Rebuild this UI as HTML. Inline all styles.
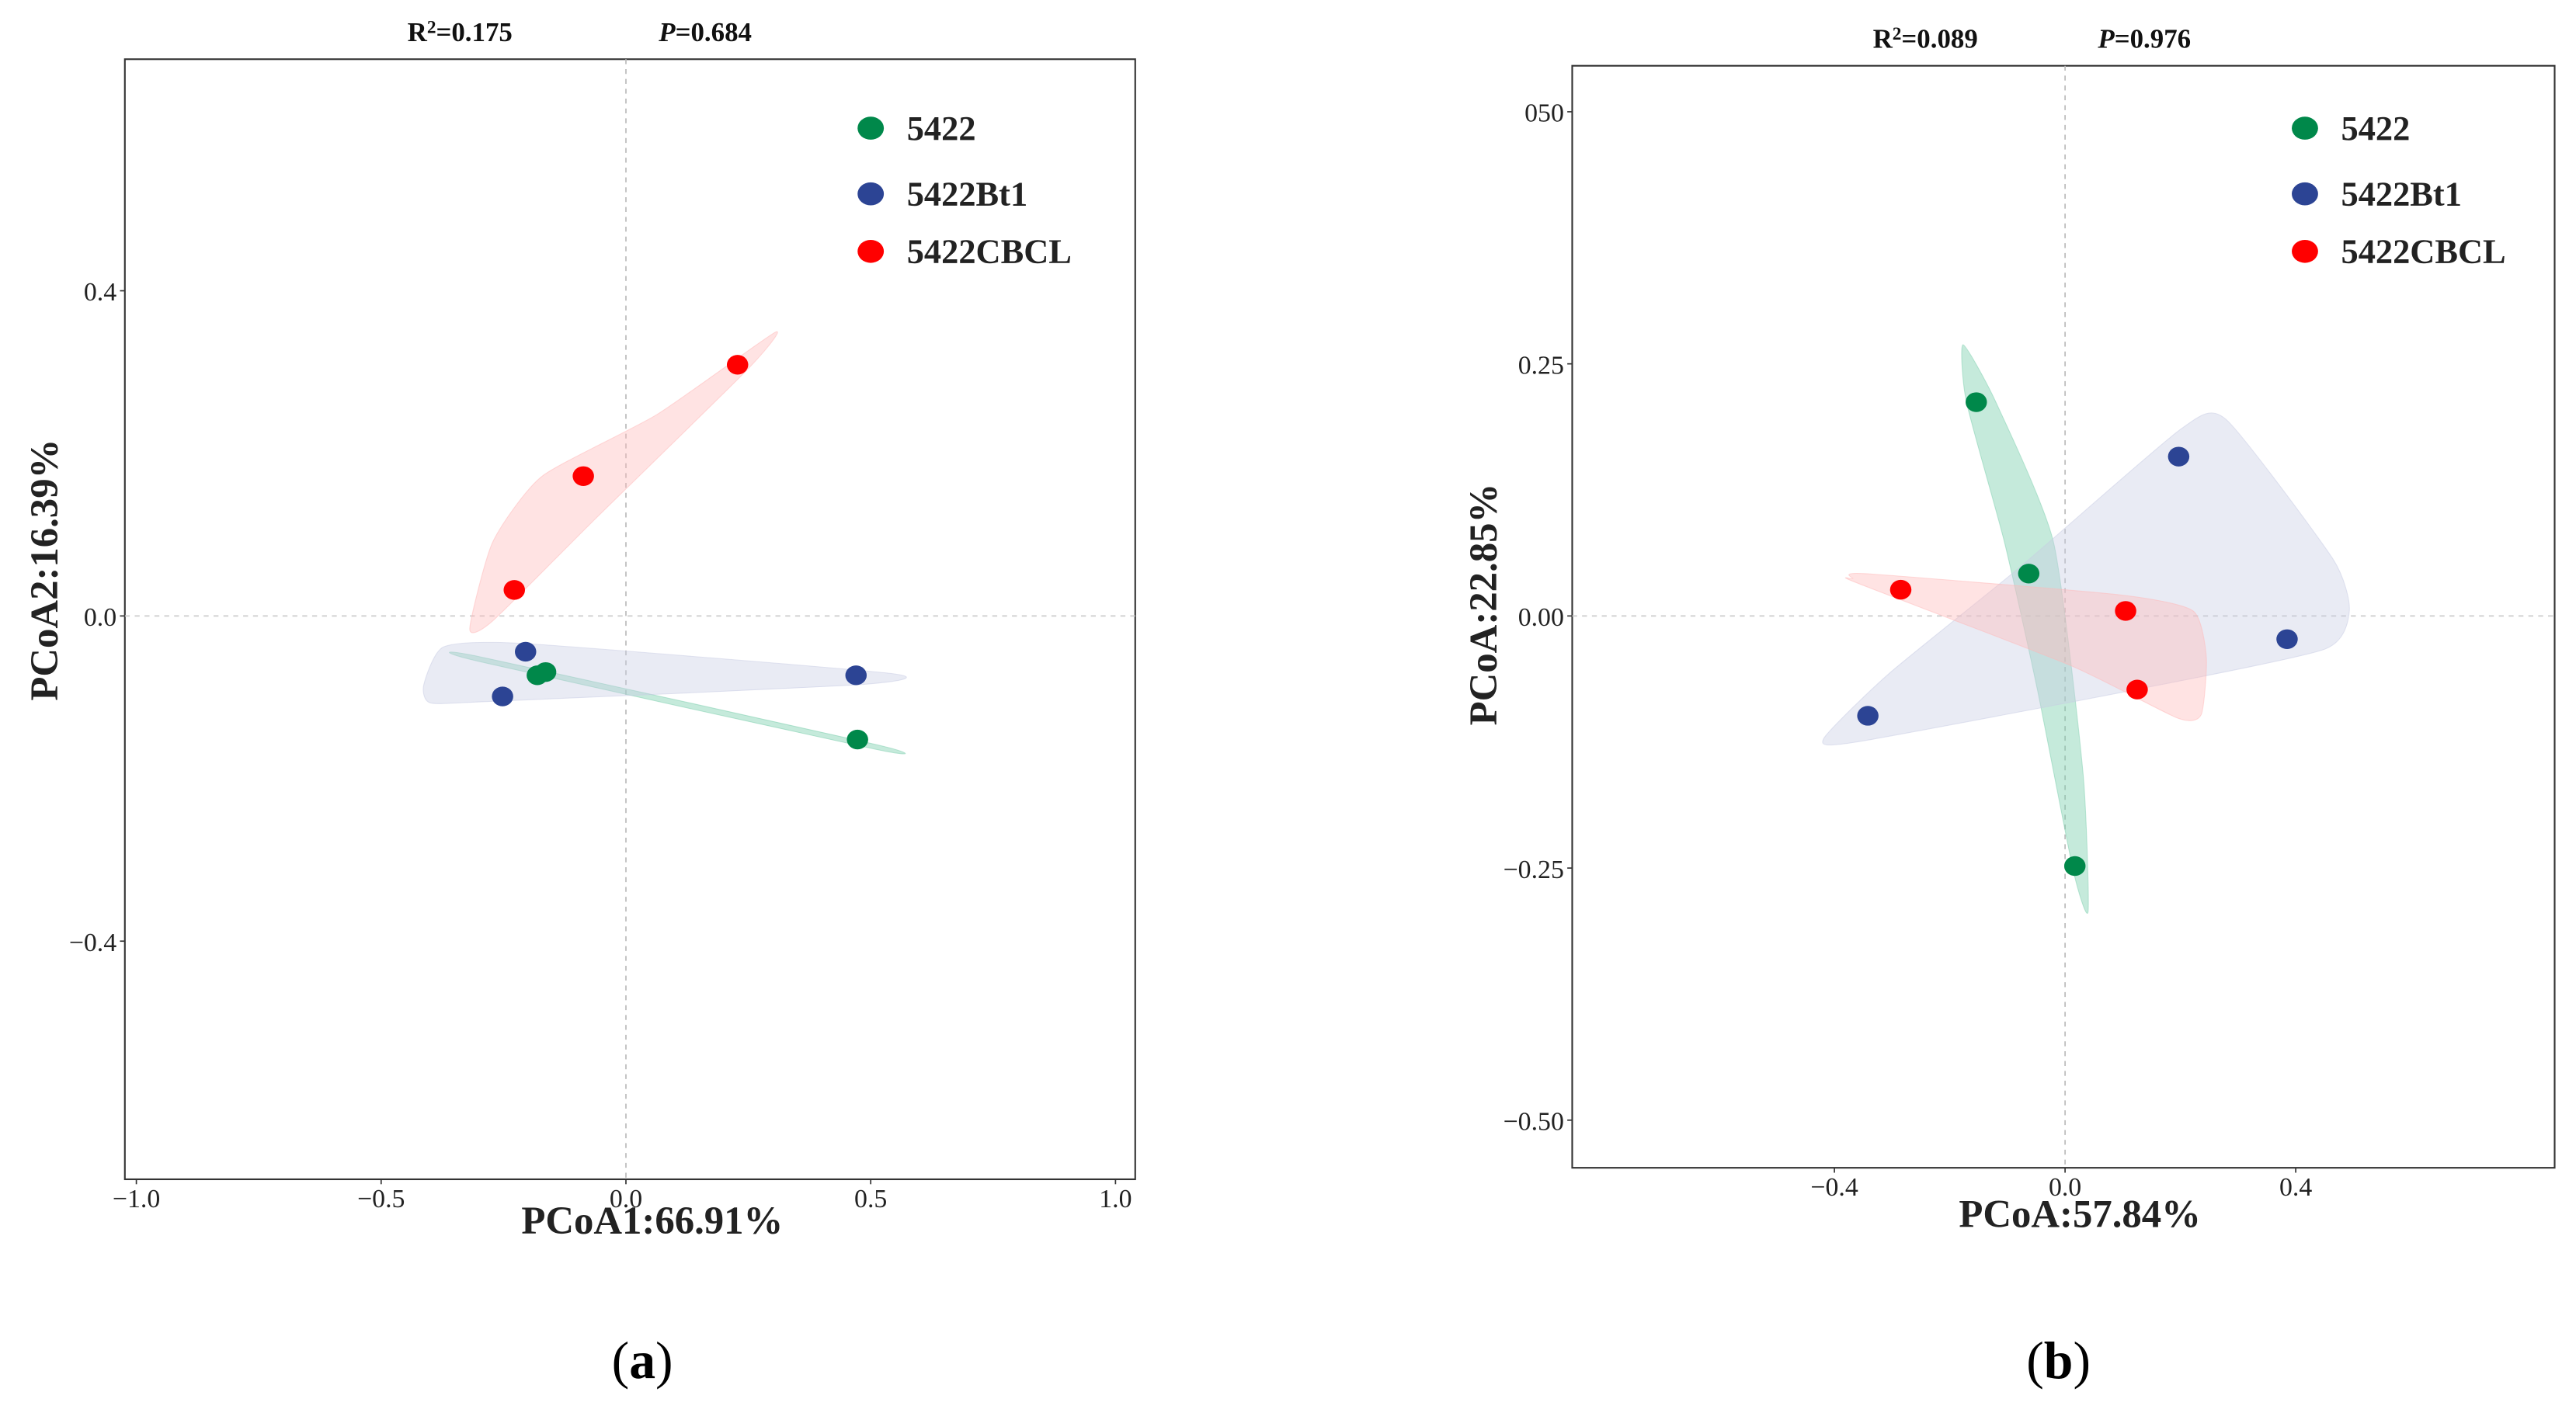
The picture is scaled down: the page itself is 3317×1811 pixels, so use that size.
<!DOCTYPE html>
<html><head><meta charset="utf-8"><style>
html,body{margin:0;padding:0;background:#fff;}
svg{display:block;font-family:"Liberation Serif",serif;}
</style></head><body>
<svg id="fig" width="3317" height="1811" viewBox="0 0 1568 856" xmlns="http://www.w3.org/2000/svg"></svg>
<script>
// ---- Panel A data ----
const groups = ["5422", "5422Bt1", "5422CBCL"];
const colors = ["#00884a", "#2c4494", "#ff0000"];
const hullColors = ["#7fd0b0", "#c8cce4", "#ffb8b8"];
const aXTicks = [-1.0, -0.5, 0.0, 0.5, 1.0];
const aXTickLabels = ["\u22121.0", "\u22120.5", "0.0", "0.5", "1.0"];
const aYTicks = [0.4, 0.0, -0.4];
const aYTickLabels = ["0.4", "0.0", "\u22120.4"];
const aGreenX = [-0.181, -0.164, 0.473];
const aGreenY = [-0.073, -0.069, -0.152];
const aBlueX = [-0.205, -0.252, 0.470];
const aBlueY = [-0.044, -0.099, -0.073];
const aRedX = [0.228, -0.087, -0.228];
const aRedY = [0.309, 0.172, 0.032];
const aHullGreen = [[-0.30,-0.050],[0.51,-0.158],[0.51,-0.164],[-0.30,-0.056]];
const aHullBlue = [[-0.413,-0.085],[-0.372,-0.038],[-0.205,-0.034],[0.545,-0.071],[0.466,-0.085],[-0.272,-0.105],[-0.399,-0.107]];
const aHullRed = [[-0.319,-0.016],[-0.272,0.091],[-0.171,0.172],[0.064,0.248],[0.305,0.349],[0.248,0.303],[-0.070,0.115],[-0.272,-0.006]];
// ---- Panel B data ----
const bXTicks = [-0.4, 0.0, 0.4];
const bXTickLabels = ["\u22120.4", "0.0", "0.4"];
const bYTicks = [0.5, 0.25, 0.0, -0.25, -0.5];
const bYTickLabels = ["050", "0.25", "0.00", "\u22120.25", "\u22120.50"];
const bGreenX = [-0.154, -0.063, 0.017];
const bGreenY = [0.212, 0.042, -0.248];
const bBlueX = [0.197, 0.385, -0.342];
const bBlueY = [0.158, -0.023, -0.099];
const bRedX = [-0.285, 0.105, 0.125];
const bRedY = [0.026, 0.005, -0.073];
const bHullGreen = [[-0.177,0.269],[-0.120,0.212],[-0.020,0.073],[0.031,-0.155],[0.040,-0.293],[0.014,-0.252],[-0.048,-0.073],[-0.105,0.073],[-0.171,0.212]];
const bHullBlue = [[-0.419,-0.122],[-0.305,-0.057],[-0.077,0.049],[0.200,0.185],[0.279,0.195],[0.464,0.057],[0.493,0.005],[0.450,-0.033],[0.123,-0.073],[-0.362,-0.125]];
const bHullRed = [[-0.368,0.037],[-0.348,0.042],[0.094,0.021],[0.222,0.005],[0.245,-0.041],[0.236,-0.098],[0.194,-0.101],[0.009,-0.049],[-0.362,0.033]];

const NS = "http://www.w3.org/2000/svg";
const svg = document.getElementById("fig");
function mk(tag, attrs, parent, text) {
  const e = document.createElementNS(NS, tag);
  for (const k in attrs) e.setAttribute(k, attrs[k]);
  if (text !== undefined) e.textContent = text;
  (parent || svg).appendChild(e);
  return e;
}
function smoothPath(pts) {
  const n = pts.length; let d = "M" + pts[0][0] + "," + pts[0][1];
  const k = 10;
  for (let i = 0; i < n; i++) {
    const p0 = pts[(i - 1 + n) % n], p1 = pts[i], p2 = pts[(i + 1) % n], p3 = pts[(i + 2) % n];
    const c1 = [p1[0] + (p2[0] - p0[0]) / k, p1[1] + (p2[1] - p0[1]) / k];
    const c2 = [p2[0] - (p3[0] - p1[0]) / k, p2[1] - (p3[1] - p1[1]) / k];
    d += "C" + c1[0] + "," + c1[1] + " " + c2[0] + "," + c2[1] + " " + p2[0] + "," + p2[1];
  }
  return d + "Z";
}
function panel(cfg) {
  const g = mk("g", {});
  
  
  const sx = v => cfg.x0 + v * cfg.kx;
  const sy = v => cfg.y0 - v * cfg.ky;
  const box = mk("rect", {x: cfg.L, y: cfg.T, width: cfg.R - cfg.L, height: cfg.B - cfg.T, fill: "none", stroke: "#333", "stroke-width": 1}, g);
  
  
  const zl1 = mk("line", {x1: sx(0), x2: sx(0), y1: cfg.T, y2: cfg.B, stroke: "#bbb", "stroke-dasharray": "3,3", "stroke-width": 0.8}, g);
  
  
  const zl2 = mk("line", {x1: cfg.L, x2: cfg.R, y1: sy(0), y2: sy(0), stroke: "#ccc", "stroke-dasharray": "3,3", "stroke-width": 0.8}, g);
  
  
  cfg.hulls.forEach((h, i) => {
    const p = mk("path", {d: smoothPath(h.map(q => [sx(q[0]), sy(q[1])])), fill: hullColors[i], "fill-opacity": i === 0 ? 0.45 : 0.4, stroke: hullColors[i], "stroke-opacity": 0.5, "stroke-width": 0.5}, g);
    
    
  });
  cfg.xt.forEach((t, i) => {
    const tl = mk("line", {x1: sx(t), x2: sx(t), y1: cfg.B, y2: cfg.B + 3, stroke: "#333", "stroke-width": 0.8}, g);
    
    
    const tx = mk("text", {x: sx(t), y: cfg.B + 17, "text-anchor": "middle", "font-size": 16, fill: "#222"}, g, cfg.xl[i]);
    
    
  });
  cfg.yt.forEach((t, i) => {
    const tl = mk("line", {x1: cfg.L - 3, x2: cfg.L, y1: sy(t), y2: sy(t), stroke: "#333", "stroke-width": 0.8}, g);
    
    
    const tx = mk("text", {x: cfg.L - 5, y: sy(t) + 6, "text-anchor": "end", "font-size": 16, fill: "#222"}, g, cfg.yl[i]);
    
    
  });
  cfg.pts.forEach((s, i) => {
    s[0].forEach((v, j) => {
      const c = mk("ellipse", {cx: sx(v), cy: sy(s[1][j]), rx: 6.5, ry: 6, fill: colors[i]}, g);
      
      
    });
  });
  groups.forEach((nm, i) => {
    const ly = [78, 118, 153][i];
    const c = mk("ellipse", {cx: cfg.legX, cy: ly, rx: 8, ry: 7, fill: colors[i]}, g);
    
    
    const t = mk("text", {x: cfg.legX + 22, y: ly + 7, "font-size": 21, "font-weight": "bold", fill: "#222"}, g, nm);
    
    
  });
  const r2 = mk("text", {x: cfg.r2x, y: cfg.statY, "font-size": 16.5, "font-weight": "bold", fill: "#111"}, g);
  
  
  r2.innerHTML = 'R<tspan font-size="11" dy="-5">2</tspan><tspan dy="5">=' + cfg.r2 + '</tspan>';
  const pp = mk("text", {x: cfg.px, y: cfg.statY, "font-size": 16.5, "font-weight": "bold", fill: "#111"}, g);
  
  
  pp.innerHTML = '<tspan font-style="italic">P</tspan>=' + cfg.p;
  const xt = mk("text", {x: cfg.xTitleX, y: cfg.xTitleY, "text-anchor": "middle", "font-size": 24, "font-weight": "bold", fill: "#222"}, g, cfg.xTitle);
  
  
  const yt = mk("text", {x: 0, y: 0, "text-anchor": "middle", "font-size": 24, "font-weight": "bold", fill: "#222", transform: "translate(" + cfg.yTitleX + "," + cfg.yTitleY + ") rotate(-90)"}, g, cfg.yTitle);
  
  
  const pl = mk("text", {x: cfg.labX, y: 839, "text-anchor": "middle", "font-size": 32, fill: "#000"}, g);
  
  
  pl.innerHTML = '(<tspan font-weight="bold">' + cfg.lab + '</tspan>)';
}
panel({name: "panel-a", L: 76, T: 36, R: 691, B: 718, x0: 381, kx: 298, y0: 375, ky: 495,
  xt: aXTicks, xl: aXTickLabels, yt: aYTicks, yl: aYTickLabels,
  hulls: [aHullGreen, aHullBlue, aHullRed],
  pts: [[aGreenX, aGreenY], [aBlueX, aBlueY], [aRedX, aRedY]],
  legX: 530, r2x: 248, px: 401, statY: 25, r2: "0.175", p: "0.684",
  xTitle: "PCoA1:66.91%", xTitleX: 397, xTitleY: 751, yTitle: "PCoA2:16.39%", yTitleX: 35, yTitleY: 347, labX: 391, lab: "a"});
panel({name: "panel-b", L: 957, T: 40, R: 1555, B: 711, x0: 1257, kx: 351, y0: 375, ky: 614,
  xt: bXTicks, xl: bXTickLabels, yt: bYTicks, yl: bYTickLabels,
  hulls: [bHullGreen, bHullBlue, bHullRed],
  pts: [[bGreenX, bGreenY], [bBlueX, bBlueY], [bRedX, bRedY]],
  legX: 1403, r2x: 1140, px: 1277, statY: 29, r2: "0.089", p: "0.976",
  xTitle: "PCoA:57.84%", xTitleX: 1266, xTitleY: 747, yTitle: "PCoA:22.85%", yTitleX: 911, yTitleY: 368, labX: 1253, lab: "b"});
</script>
</body></html>
